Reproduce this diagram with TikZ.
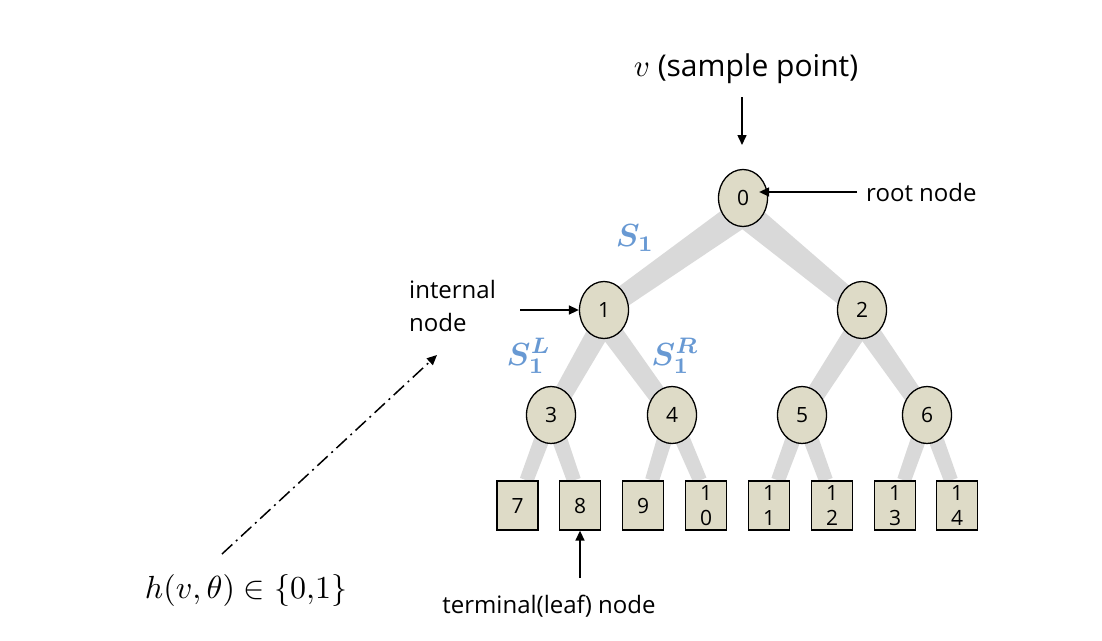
\documentclass[tikz,border=0pt]{standalone}
\usepackage[no-math]{fontspec}
\usepackage{graphicx}
\usepackage{amsmath,bm}
\setmainfont{Open Sans}
\usetikzlibrary{calc,shapes.geometric,arrows.meta}
\definecolor{bandgray}{RGB}{217,217,217}
\definecolor{nodefill}{RGB}{222,219,199}
\definecolor{sblue}{RGB}{104,153,211}
\pgfdeclarelayer{bg}
\pgfsetlayers{bg,main}
\newcommand\treeband[4]{%
  \fill[bandgray] ($(#1)!#3!90:(#2)$) -- ($(#1)!#3!-90:(#2)$) -- ($(#2)!#4!90:(#1)$) -- ($(#2)!#4!-90:(#1)$) -- cycle;}
\tikzset{
  tnode/.style={ellipse,draw,line width=1.3pt,fill=nodefill,minimum width=49pt,minimum height=57pt,inner sep=0pt,font=\fontsize{21}{25}\selectfont},
  leaf/.style={rectangle,draw,line width=1.3pt,fill=nodefill,minimum width=41pt,minimum height=49pt,inner sep=0pt,align=center,font=\fontsize{21}{25}\selectfont},
  lbl/.style={inner sep=0pt,font=\fontsize{24}{33}\selectfont},
  arr/.style={line width=1.5pt,-{Triangle[length=10pt,width=9pt]}},
  slbl/.style={inner sep=0pt,text=sblue},
}
\begin{document}
\begin{tikzpicture}[x=1pt,y=-1pt]
\useasboundingbox (0,0) rectangle (1102,640);
% tree nodes
\node[tnode] (n0) at (743,198) {0};
\node[tnode] (n1) at (604,310) {1};
\node[tnode] (n2) at (862,310) {2};
\node[tnode] (n3) at (551,415) {3};
\node[tnode] (n4) at (672,415) {4};
\node[tnode] (n5) at (802,415) {5};
\node[tnode] (n6) at (927,415) {6};
\node[leaf] (l7) at (517.5,505.5) {7};
\node[leaf] (l8) at (580,505.5) {8};
\node[leaf] (l9) at (643,505.5) {9};
\node[leaf] (l10) at (706,505.5) {1\\0};
\node[leaf] (l11) at (769,505.5) {1\\1};
\node[leaf] (l12) at (832,505.5) {1\\2};
\node[leaf] (l13) at (895,505.5) {1\\3};
\node[leaf] (l14) at (957,505.5) {1\\4};
% band anchor points
\coordinate (b0) at ($(n0)+(0,14)$);
\coordinate (b1) at ($(n1)+(0,12)$);
\coordinate (b2) at ($(n2)+(0,12)$);
\coordinate (e7) at ($(l7.north)+(9,0)$);
\coordinate (e8) at ($(l8.north)+(-6,0)$);
\coordinate (e9) at ($(l9.north)+(9,0)$);
\coordinate (e10) at ($(l10.north)+(-6,0)$);
\coordinate (e11) at ($(l11.north)+(9,0)$);
\coordinate (e12) at ($(l12.north)+(-6,0)$);
\coordinate (e13) at ($(l13.north)+(9,0)$);
\coordinate (e14) at ($(l14.north)+(-6,0)$);
\begin{pgfonlayer}{bg}
\treeband{b0}{n1}{14pt}{10pt}
\treeband{b0}{n2}{14pt}{10pt}
\treeband{b1}{n3}{11pt}{9pt}
\treeband{b1}{n4}{11pt}{9pt}
\treeband{b2}{n5}{11pt}{9pt}
\treeband{b2}{n6}{11pt}{9pt}
\treeband{n3}{e7}{8pt}{7pt}
\treeband{n3}{e8}{8pt}{7pt}
\treeband{n4}{e9}{8pt}{7pt}
\treeband{n4}{e10}{8pt}{7pt}
\treeband{n5}{e11}{8pt}{7pt}
\treeband{n5}{e12}{8pt}{7pt}
\treeband{n6}{e13}{8pt}{7pt}
\treeband{n6}{e14}{8pt}{7pt}
\end{pgfonlayer}
% labels
\node[inner sep=0pt,anchor=base,font=\fontsize{30}{34}\selectfont] (title) at (746,76) {\scalebox{3.1}{\normalsize$v$}\ (sample point)};
\node[lbl,anchor=base west] (rootlbl) at (866,201) {root node};
\node[lbl,anchor=north west,align=left] (intlbl) at (409,280) {internal\\node};
\node[lbl,anchor=base] (leaflbl) at (549,613) {terminal(leaf) node};
\node[inner sep=0pt,anchor=base] (hlbl) at (246,598) {\scalebox{3.2}{$h(v,\theta)\in\{0{,}1\}$}};
\node[slbl] (s1) at (635,238) {\scalebox{3.2}{$\bm{S}_{\mathbf{1}}$}};
\node[slbl] (s1l) at (529,356) {\scalebox{3.2}{$\bm{S}_{\mathbf{1}}^{\bm{L}}$}};
\node[slbl] (s1r) at (675,356) {\scalebox{3.2}{$\bm{S}_{\mathbf{1}}^{\bm{R}}$}};
% arrows
\coordinate (topstart) at (742,97);
\coordinate (topend) at (742,145);
\draw[arr] (topstart) -- (topend);
\draw[arr] ([xshift=-9pt]rootlbl.west) -- ([xshift=-9pt]rootlbl.west -| n0.east);
\coordinate (intstart) at (520,310);
\draw[arr] (intstart) -- (n1.west);
\coordinate (leafstart) at (580,578);
\draw[arr] (leafstart) -- (l8.south);
\coordinate (dstart) at (222,554);
\coordinate (dend) at (437,355);
\draw[arr,dash pattern=on 14pt off 5pt on 2pt off 5pt] (dstart) -- (dend);
\end{tikzpicture}
\end{document}
